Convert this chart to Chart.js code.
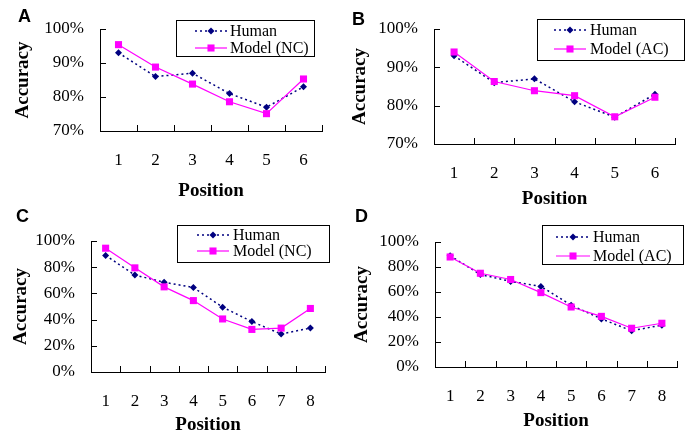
<!DOCTYPE html>
<html>
<head>
<meta charset="utf-8">
<script src="https://cdn.jsdelivr.net/npm/chart.js@4.4.1/dist/chart.umd.min.js"></script>
<style>
	body { margin: 0; background: #fff; width: 691px; height: 435px; position: relative; overflow: hidden; }
	canvas { position: absolute; }
	.tag { position: absolute; font: bold 18px "Liberation Sans", Arial, sans-serif; line-height: 1; color: #000; }
</style>
</head>
<body>
<canvas id="chartA" width="345" height="210" style="left:0px;top:0px"></canvas>
<canvas id="chartB" width="346" height="210" style="left:345px;top:0px"></canvas>
<canvas id="chartC" width="345" height="225" style="left:0px;top:210px"></canvas>
<canvas id="chartD" width="346" height="225" style="left:345px;top:210px"></canvas>
<div class="tag" style="left:18px;top:7px">A</div>
<div class="tag" style="left:352px;top:10px">B</div>
<div class="tag" style="left:16px;top:207px">C</div>
<div class="tag" style="left:355px;top:207px">D</div>
<script>
// values (percent)
const positionsShort = ["1", "2", "3", "4", "5", "6"];
const positionsLong = ["1", "2", "3", "4", "5", "6", "7", "8"];

const humanShort = [93, 86, 87, 81, 77, 83];
const modelNcShort = [95.4, 88.8, 83.8, 78.6, 75.1, 85.3];
const modelAcShort = [94.0, 86.3, 83.9, 82.6, 77.1, 82.2];

const humanLong = [89, 74, 68.5, 64.5, 49.5, 38.5, 29, 33.5];
const modelNcLong = [94.5, 79.5, 65, 54.5, 40.5, 32.5, 33.5, 48.5];
const modelAcLong = [88, 75, 70, 59.5, 48, 40.5, 31, 35];

const ticksShort = [70, 80, 90, 100];
const ticksLong = [0, 20, 40, 60, 80, 100];

const humanName = "Human";
const modelNcName = "Model (NC)";
const modelAcName = "Model (AC)";

const serif = "'Liberation Serif', 'Times New Roman', serif";
Chart.defaults.font.family = serif;
Chart.defaults.color = "#000";

// inward tick marks like the original spreadsheet axes
const innerTicks = {
	id: "innerTicks",
	afterDraw(chart) {
		const ctx = chart.ctx;
		const xs = chart.scales.x, ys = chart.scales.y;
		const area = chart.chartArea;
		ctx.save();
		ctx.strokeStyle = "#000";
		ctx.lineWidth = 1;
		ctx.beginPath();
		ys.ticks.forEach(t => {
			const py = Math.round(ys.getPixelForValue(t.value)) + 0.5;
			ctx.moveTo(area.left, py);
			ctx.lineTo(area.left + 6, py);
		});
		for (let i = 0; i <= xs.ticks.length; i++) {
			const px = Math.round(xs.getPixelForValue(i - 0.5)) + 0.5;
			ctx.moveTo(px, area.bottom);
			ctx.lineTo(px, area.bottom - 6);
		}
		ctx.stroke();
		ctx.restore();
	}
};

function marker(ctx, style, r, x, y, color) {
	ctx.fillStyle = color;
	ctx.beginPath();
	if (style === "rectRot") {
		ctx.moveTo(x, y - r);
		ctx.lineTo(x + r, y);
		ctx.lineTo(x, y + r);
		ctx.lineTo(x - r, y);
		ctx.closePath();
	} else {
		const s = r * Math.SQRT1_2;
		ctx.rect(x - s, y - s, 2 * s, 2 * s);
	}
	ctx.fill();
}

// boxed legend sitting over the plot, top right
const boxLegend = {
	id: "boxLegend",
	afterDraw(chart, args, opts) {
		const ctx = chart.ctx;
		const b = opts.box;
		ctx.save();
		ctx.fillStyle = "#fff";
		ctx.fillRect(b.x, b.y, b.w, b.h);
		ctx.strokeStyle = "#000";
		ctx.lineWidth = 1;
		ctx.strokeRect(b.x + 0.5, b.y + 0.5, b.w, b.h);
		chart.data.datasets.forEach((ds, i) => {
			const y = b.rows[i];
			ctx.strokeStyle = ds.borderColor;
			ctx.lineWidth = ds.borderWidth;
			ctx.setLineDash(ds.borderDash || []);
			ctx.beginPath();
			ctx.moveTo(b.s0, y);
			ctx.lineTo(b.s1, y);
			ctx.stroke();
			ctx.setLineDash([]);
			marker(ctx, ds.pointStyle, ds.pointRadius, (b.s0 + b.s1) / 2, y, ds.pointBackgroundColor);
			ctx.fillStyle = "#000";
			ctx.font = "16px " + serif;
			ctx.textBaseline = "middle";
			ctx.fillText(ds.label, b.tx, y + 1);
		});
		ctx.restore();
	}
};

function makeChart(id, labels, human, model, modelName, yTicks, lay) {
	const canvas = document.getElementById(id);
	const W = canvas.width, H = canvas.height;
	return new Chart(canvas.getContext("2d"), {
		type: "line",
		data: {
			labels: labels,
			datasets: [{
				label: humanName,
				data: human,
				borderColor: "#000080",
				backgroundColor: "#000080",
				pointBackgroundColor: "#000080",
				pointBorderColor: "#000080",
				borderWidth: 1.5,
				borderDash: [2, 3],
				pointStyle: "rectRot",
				pointRadius: 3.5,
				pointBorderWidth: 0,
				tension: 0,
				order: 1,
			}, {
				label: modelName,
				data: model,
				borderColor: "#ff00ff",
				backgroundColor: "#ff00ff",
				pointBackgroundColor: "#ff00ff",
				pointBorderColor: "#ff00ff",
				borderWidth: 1.2,
				pointStyle: "rect",
				pointRadius: 5,
				pointBorderWidth: 0,
				tension: 0,
				order: 0,
			}],
		},
		options: {
			responsive: false,
			animation: false,
			devicePixelRatio: 1,
			clip: false,
			layout: { padding: { left: 0, top: lay.top, right: W - lay.right, bottom: 0 } },
			plugins: {
				legend: { display: false },
				tooltip: { enabled: false },
				boxLegend: { box: lay.legend },
			},
			scales: {
				x: {
					type: "category",
					offset: true,
					grid: { display: true, drawOnChartArea: false, drawTicks: false, offset: true },
					border: { display: true, color: "#000", width: 1 },
					ticks: { padding: lay.xPad, font: { size: 17 }, color: "#000", maxRotation: 0 },
					title: { display: true, text: "Position", font: { size: 19, weight: "bold" }, color: "#000", padding: { top: 0, bottom: lay.xTitle } },
					afterFit: s => { s.height = H - lay.bottom; },
				},
				y: {
					min: yTicks[0],
					max: yTicks[yTicks.length - 1],
					grid: { display: true, drawOnChartArea: false, drawTicks: false },
					border: { display: true, color: "#000", width: 1 },
					ticks: {
						stepSize: yTicks[1] - yTicks[0],
						padding: 16,
						font: { size: 17 },
						color: "#000",
						callback: v => v + "%",
					},
					title: { display: true, text: "Accuracy", font: { size: 19, weight: "bold" }, color: "#000", padding: { top: lay.yTitle, bottom: 0 } },
					afterFit: s => { s.width = lay.left; },
				},
			},
		},
		plugins: [innerTicks, boxLegend],
	});
}

makeChart("chartA", positionsShort, humanShort, modelNcShort, modelNcName, ticksShort, {
	left: 100, right: 322, top: 29, bottom: 131, xPad: 19, xTitle: 8, yTitle: 11.5,
	legend: { x: 176, y: 20, w: 138, h: 36, rows: [31, 48], s0: 195, s1: 227, tx: 230 },
});
makeChart("chartB", positionsShort, humanShort, modelAcShort, modelAcName, ticksShort, {
	left: 89, right: 330, top: 29, bottom: 144, xPad: 19, xTitle: 0, yTitle: 4,
	legend: { x: 192, y: 19, w: 147, h: 41, rows: [30, 49], s0: 209, s1: 241, tx: 245 },
});
makeChart("chartC", positionsLong, humanLong, modelNcLong, modelNcName, ticksLong, {
	left: 91, right: 325, top: 31, bottom: 162, xPad: 19, xTitle: -1, yTitle: 10,
	legend: { x: 177, y: 15, w: 152, h: 37, rows: [25, 41], s0: 197, s1: 229, tx: 233 },
});
makeChart("chartD", positionsLong, humanLong, modelAcLong, modelAcName, ticksLong, {
	left: 90, right: 332, top: 32, bottom: 157, xPad: 19, xTitle: 2.5, yTitle: 6,
	legend: { x: 197, y: 15, w: 141, h: 39, rows: [27, 46], s0: 211, s1: 245, tx: 248 },
});
</script>
</body>
</html>
